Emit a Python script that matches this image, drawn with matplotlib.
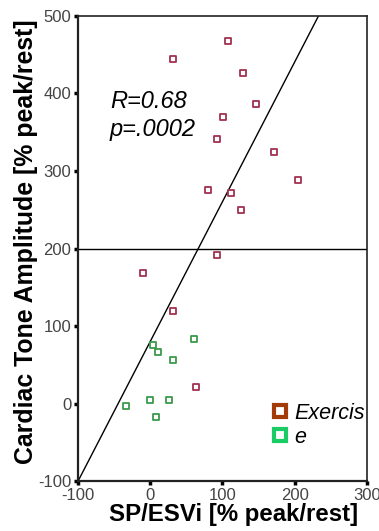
import matplotlib
matplotlib.use("Agg")
import matplotlib.pyplot as plt
from matplotlib.lines import Line2D

plt.rcParams['font.family'] = ['Liberation Sans', 'DejaVu Sans']
plt.rcParams['axes.unicode_minus'] = False

exercise_x = [107, 32, 129, 147, 101, 93, 172, 204, 80, 112, 126, 93, -10, 31, 64]
exercise_y = [468, 445, 427, 386, 369, 341, 325, 288, 275, 272, 250, 191, 168, 120, 21]
other_x = [60, 4, 11, 32, 0, 26, -33, 8]
other_y = [83, 75, 66, 56, 5, 5, -3, -17]

fit_x = [-100, 233]
fit_y = [-100, 500]
hline_y = 200

xticks = [-100, 0, 100, 200, 300]
yticks = [-100, 0, 100, 200, 300, 400, 500]
legend_labels = ["Exercis", "e"]

fig = plt.figure(figsize=(3.79, 5.31), dpi=100)
ax = fig.add_axes([0.206, 0.094, 0.762, 0.876])

ax.scatter(exercise_x, exercise_y, marker='s', s=22, facecolors='white',
           edgecolors='#a03050', linewidths=1.3, zorder=3)
ax.scatter(other_x, other_y, marker='s', s=22, facecolors='white',
           edgecolors='#3a9a4a', linewidths=1.3, zorder=3)

ax.plot(fit_x, fit_y, color='black', lw=1.0, zorder=2)
ax.axhline(hline_y, color='black', lw=1.0, zorder=2)

ax.set_xlim(-100, 300)
ax.set_ylim(-100, 500)
ax.set_xticks(xticks)
ax.set_yticks(yticks)
ax.tick_params(direction='out', length=3, width=2.5, labelsize=12,
               labelcolor='#444444', color='black', pad=2)
for s in ax.spines.values():
    s.set_color('#222222')
    s.set_linewidth(1.2)
ax.spines['left'].set_linewidth(1.6)
ax.spines['bottom'].set_linewidth(1.6)

ax.set_xlabel("SP/ESVi [% peak/rest]", fontsize=17.3, fontweight='bold')
ax.set_ylabel("Cardiac Tone Amplitude [% peak/rest]", fontsize=17.9, fontweight='bold')
ax.xaxis.set_label_coords(0.54, -0.047, transform=ax.transAxes)
ax.yaxis.set_label_coords(-0.14, 0.515, transform=ax.transAxes)
ax.xaxis.label.set_va('top')
ax.yaxis.label.set_va('bottom')

ax.text(-56, 390, "R=0.68", fontsize=17, style='italic', va='center', ha='left')
ax.text(-56, 353, "p=.0002", fontsize=17, style='italic', va='center', ha='left')

handles = [
    Line2D([], [], marker='s', linestyle='none', markersize=9,
           markerfacecolor='white', markeredgecolor='#a33a0a', markeredgewidth=3),
    Line2D([], [], marker='s', linestyle='none', markersize=9,
           markerfacecolor='white', markeredgecolor='#1acc66', markeredgewidth=3),
]
leg = ax.legend(handles, legend_labels, loc='lower right', bbox_to_anchor=(1.06, 0.03),
                frameon=False, handlelength=0.6, handletextpad=0.35,
                labelspacing=0.15, prop={'style': 'italic', 'size': 15.5})

fig.savefig("out.png", dpi=100)
